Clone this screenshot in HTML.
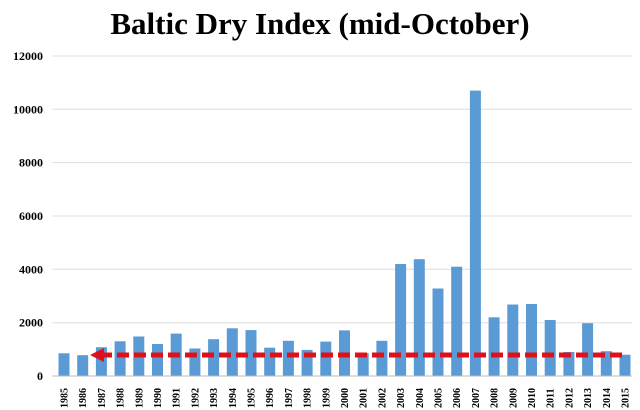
<!DOCTYPE html><html><head><style>body{margin:0;background:#fff}svg{display:block}</style></head><body>
<svg width="640" height="410" xmlns="http://www.w3.org/2000/svg" font-family="Liberation Serif, serif">
<text x="320" y="34" text-anchor="middle" font-size="31" font-weight="bold">Baltic Dry Index (mid-October)</text>
<g stroke="#ddd">
<line x1="52" x2="632" y1="322.7" y2="322.7"/><line x1="52" x2="632" y1="269.3" y2="269.3"/><line x1="52" x2="632" y1="216" y2="216"/><line x1="52" x2="632" y1="162.6" y2="162.6"/><line x1="52" x2="632" y1="109.3" y2="109.3"/><line x1="52" x2="632" y1="56" y2="56"/>
</g>
<g font-size="12" font-weight="bold" text-anchor="end">
<text x="43" y="380">0</text><text x="43" y="326.7">2000</text><text x="43" y="273.3">4000</text><text x="43" y="220">6000</text><text x="43" y="166.6">8000</text><text x="43" y="113.3">10000</text><text x="43" y="60">12000</text>
</g>
<g fill="#5b9bd5">
<rect x="58.5" y="353.3" width="11" height="22.7"/>
<rect x="77.2" y="355.2" width="11" height="20.8"/>
<rect x="95.9" y="347.2" width="11" height="28.8"/>
<rect x="114.6" y="341.3" width="11" height="34.7"/>
<rect x="133.3" y="336.5" width="11" height="39.5"/>
<rect x="152.0" y="344.0" width="11" height="32.0"/>
<rect x="170.7" y="333.6" width="11" height="42.4"/>
<rect x="189.4" y="348.5" width="11" height="27.5"/>
<rect x="208.1" y="339.2" width="11" height="36.8"/>
<rect x="226.8" y="328.3" width="11" height="47.7"/>
<rect x="245.5" y="330.1" width="11" height="45.9"/>
<rect x="264.2" y="347.7" width="11" height="28.3"/>
<rect x="282.9" y="340.8" width="11" height="35.2"/>
<rect x="301.6" y="349.9" width="11" height="26.1"/>
<rect x="320.3" y="341.6" width="11" height="34.4"/>
<rect x="339.0" y="330.4" width="11" height="45.6"/>
<rect x="357.7" y="353.1" width="11" height="22.9"/>
<rect x="376.4" y="340.8" width="11" height="35.2"/>
<rect x="395.1" y="264.0" width="11" height="112.0"/>
<rect x="413.8" y="259.2" width="11" height="116.8"/>
<rect x="432.5" y="288.5" width="11" height="87.5"/>
<rect x="451.2" y="266.7" width="11" height="109.3"/>
<rect x="469.9" y="90.6" width="11" height="285.4"/>
<rect x="488.6" y="317.3" width="11" height="58.7"/>
<rect x="507.3" y="304.5" width="11" height="71.5"/>
<rect x="526.0" y="304.0" width="11" height="72.0"/>
<rect x="544.7" y="320.0" width="11" height="56.0"/>
<rect x="563.4" y="352.0" width="11" height="24.0"/>
<rect x="582.1" y="323.2" width="11" height="52.8"/>
<rect x="600.8" y="351.2" width="11" height="24.8"/>
<rect x="619.5" y="354.7" width="11" height="21.3"/>
</g>
<line x1="52" x2="632" y1="376" y2="376" stroke="#bbb"/>
<g font-size="10" font-weight="bold">
<text transform="translate(67.5,408) rotate(-90)">1985</text>
<text transform="translate(86.2,408) rotate(-90)">1986</text>
<text transform="translate(104.9,408) rotate(-90)">1987</text>
<text transform="translate(123.6,408) rotate(-90)">1988</text>
<text transform="translate(142.3,408) rotate(-90)">1989</text>
<text transform="translate(161.0,408) rotate(-90)">1990</text>
<text transform="translate(179.7,408) rotate(-90)">1991</text>
<text transform="translate(198.4,408) rotate(-90)">1992</text>
<text transform="translate(217.1,408) rotate(-90)">1993</text>
<text transform="translate(235.8,408) rotate(-90)">1994</text>
<text transform="translate(254.5,408) rotate(-90)">1995</text>
<text transform="translate(273.2,408) rotate(-90)">1996</text>
<text transform="translate(291.9,408) rotate(-90)">1997</text>
<text transform="translate(310.6,408) rotate(-90)">1998</text>
<text transform="translate(329.3,408) rotate(-90)">1999</text>
<text transform="translate(348.0,408) rotate(-90)">2000</text>
<text transform="translate(366.7,408) rotate(-90)">2001</text>
<text transform="translate(385.4,408) rotate(-90)">2002</text>
<text transform="translate(404.1,408) rotate(-90)">2003</text>
<text transform="translate(422.8,408) rotate(-90)">2004</text>
<text transform="translate(441.5,408) rotate(-90)">2005</text>
<text transform="translate(460.2,408) rotate(-90)">2006</text>
<text transform="translate(478.9,408) rotate(-90)">2007</text>
<text transform="translate(497.6,408) rotate(-90)">2008</text>
<text transform="translate(516.3,408) rotate(-90)">2009</text>
<text transform="translate(535.0,408) rotate(-90)">2010</text>
<text transform="translate(553.7,408) rotate(-90)">2011</text>
<text transform="translate(572.4,408) rotate(-90)">2012</text>
<text transform="translate(591.1,408) rotate(-90)">2013</text>
<text transform="translate(609.8,408) rotate(-90)">2014</text>
<text transform="translate(628.5,408) rotate(-90)">2015</text>
</g>
<line x1="100" x2="622" y1="355" y2="355" stroke="#e0101a" stroke-width="5" stroke-dasharray="12,5"/>
<polygon points="90,355 104,348 104,362" fill="#e0101a"/>
</svg></body></html>
